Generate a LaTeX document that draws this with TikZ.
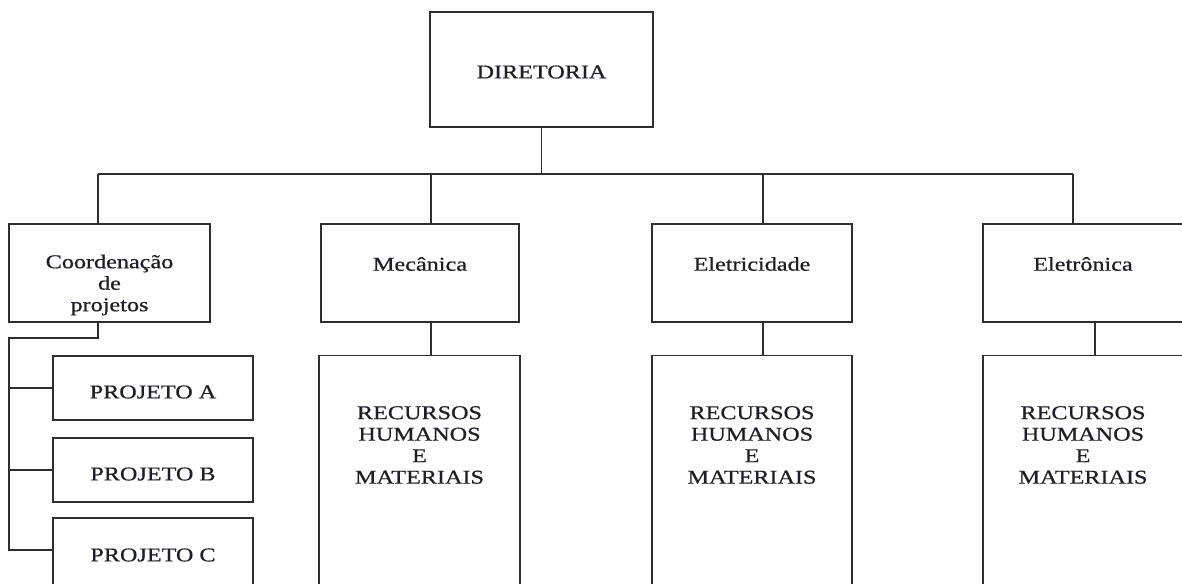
\documentclass[tikz,border=0pt]{standalone}
\usepackage{fontspec}
\setmainfont{Liberation Serif}[FakeStretch=1.24,FakeBold=0.6]
\begin{document}
\begin{tikzpicture}[x=1pt,y=-1pt,
  box/.style={draw=linegray, line width=1.4pt, fill=white, inner sep=0pt, outer sep=0pt, rectangle},
  lbl/.style={align=center, text=textgray, inner sep=0pt, font=\fontsize{19.5}{21.5}\selectfont},
  wire/.style={draw=linegray, line width=1.4pt}]
\definecolor{linegray}{HTML}{2E2E2E}
\definecolor{textgray}{HTML}{1E1E24}
\useasboundingbox (0,0) rectangle (1182,583);
\clip (0,0) rectangle (1182,583);
\fill[white] (0,0) rectangle (1182,583);

% top level
\node[box, minimum width=223pt, minimum height=115pt] (dir) at (541.5,69.5) {};
\node[lbl] (tdir) at (541.5,72) {DIRETORIA};

% departments
\node[box, minimum width=201pt, minimum height=98pt] (coord) at (109.5,273) {};
\node[box, minimum width=198pt, minimum height=98pt] (mec) at (420,273) {};
\node[box, minimum width=200pt, minimum height=98pt] (ele) at (752,273) {};
\node[box, minimum width=220pt, minimum height=98pt, anchor=west] (elt) at (983,273) {};
\node[lbl] (tcoord) at (109.5,285) {Coordenação\\de\\projetos};
\node[lbl] (tmec) at (420,264) {Mecânica};
\node[lbl] (tele) at (752,264) {Eletricidade};
\node[lbl] (telt) at (1083,264) {Eletrônica};

% resources
\node[box, minimum width=201pt, minimum height=260pt, anchor=north] (rhm) at (419.5,355.5) {};
\node[box, minimum width=200pt, minimum height=260pt, anchor=north] (rhe) at (752,355.5) {};
\node[box, minimum width=220pt, minimum height=260pt, anchor=north west] (rht) at (983,355.5) {};
\node[lbl] (trhm) at (419.5,445) {RECURSOS\\HUMANOS\\E\\MATERIAIS};
\node[lbl] (trhe) at (752,445) {RECURSOS\\HUMANOS\\E\\MATERIAIS};
\node[lbl] (trht) at (1083,445) {RECURSOS\\HUMANOS\\E\\MATERIAIS};

% projects
\node[box, minimum width=200pt, minimum height=64pt] (pa) at (153,388) {};
\node[box, minimum width=200pt, minimum height=64pt] (pb) at (153,470) {};
\node[box, minimum width=200pt, minimum height=90pt, anchor=north] (pc) at (153,518) {};
\node[lbl] (tpa) at (153,392) {PROJETO A};
\node[lbl] (tpb) at (153,474) {PROJETO B};
\node[lbl] (tpc) at (153,555) {PROJETO C};

% bus points
\coordinate (bus) at (541.5,174);
\coordinate (busL) at (98,174);
\coordinate (bm) at (431,174);
\coordinate (be) at (763,174);
\coordinate (busR) at (1073,174);
\coordinate (dm) at (431,0);
\coordinate (de) at (763,0);
\coordinate (dt) at (1095,0);
\coordinate (cl) at (98,338);
\coordinate (rail) at (9,338);
\coordinate (pcin) at (53,550);

% connectors
\draw[wire] (dir.south) -- (bus);
\draw[wire] (busL) -- (busR);
\draw[wire] (busL) -- (busL |- coord.north);
\draw[wire] (bm) -- (bm |- mec.north);
\draw[wire] (be) -- (be |- ele.north);
\draw[wire] (busR) -- (busR |- elt.north);
\draw[wire] (dm |- mec.south) -- (dm |- rhm.north);
\draw[wire] (de |- ele.south) -- (de |- rhe.north);
\draw[wire] (dt |- elt.south) -- (dt |- rht.north);
\draw[wire] (cl |- coord.south) -- (cl) -- (rail) -- (rail |- pcin) -- (pcin);
\draw[wire] (rail |- pa.west) -- (pa.west);
\draw[wire] (rail |- pb.west) -- (pb.west);
\end{tikzpicture}
\end{document}
